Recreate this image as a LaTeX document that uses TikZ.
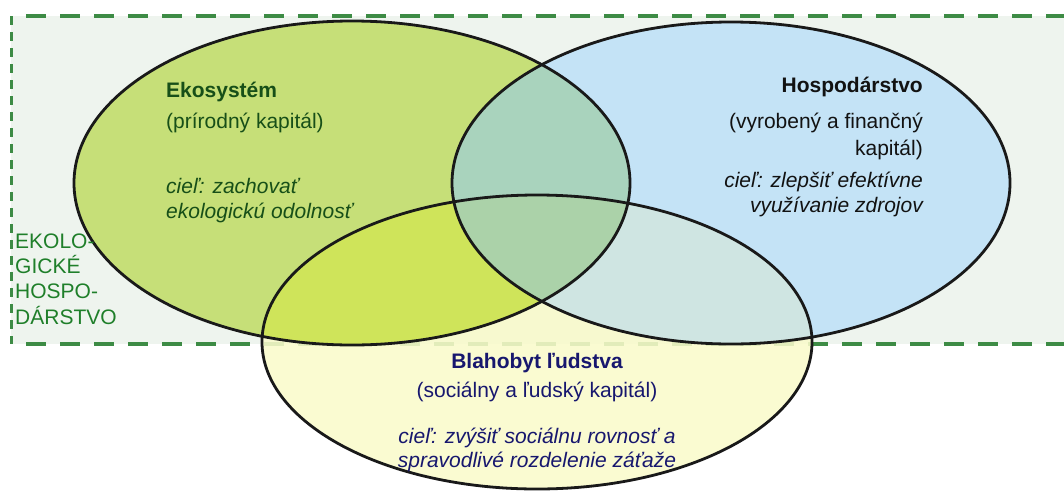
\documentclass[tikz,border=0pt]{standalone}
\usepackage{fontspec}
\setmainfont{Liberation Sans}
\definecolor{rectfill}{HTML}{EEF4EE}
\definecolor{dashgreen}{HTML}{3D8B45}
\definecolor{ecofill}{HTML}{C6DF78}
\definecolor{econfill}{HTML}{C4E3F6}
\definecolor{wellfill}{HTML}{F9FACB}
\definecolor{ecowell}{HTML}{CFE45A}
\definecolor{ecoecon}{HTML}{A9D3BD}
\definecolor{econwell}{HTML}{CFE5E2}
\definecolor{triple}{HTML}{ABD2A9}
\definecolor{ecotext}{HTML}{174F18}
\definecolor{labgreen}{HTML}{1F7F2A}
\definecolor{navy}{HTML}{17176E}
\tikzset{
  txt/.style={inner sep=0pt, font=\fontsize{21}{25}\selectfont},
  outline/.style={draw=black!90, line width=2.8pt},
}
\begin{document}
\begin{tikzpicture}[x=1pt,y=-1pt]
\useasboundingbox (0,0) rectangle (1064,498);
\clip (0,0) rectangle (1064,498);
% ecological economy box
\fill[rectfill] (11,16) rectangle (1080,344);
\draw[dashgreen, line width=3.5pt, dash pattern=on 20pt off 14pt] (26,16) -- (1080,16);
\draw[dashgreen, line width=3.5pt, dash pattern=on 20pt off 14pt] (26,344) -- (1080,344);
\draw[dashgreen, line width=3pt, dash pattern=on 9pt off 7pt] (11,16) -- (11,344);
% ellipse fills
\def\eco{(352,183) ellipse [x radius=278, y radius=162]}
\def\econ{(731,183) ellipse [x radius=279, y radius=161]}
\def\well{(537,342) ellipse [x radius=275, y radius=147]}
\fill[ecofill] \eco;
\fill[econfill] \econ;
\fill[wellfill, fill opacity=0.88] \well;
\begin{scope}\clip \eco; \fill[ecoecon] \econ; \end{scope}
\begin{scope}\clip \eco; \fill[ecowell] \well; \end{scope}
\begin{scope}\clip \econ; \fill[econwell] \well; \end{scope}
\begin{scope}\clip \eco; \clip \econ; \fill[triple] \well; \end{scope}
% outlines
\draw[outline] \eco;
\draw[outline] \econ;
\draw[outline] \well;
% Ecosystem text
\node[txt, anchor=base west, text=ecotext, font=\fontsize{21}{25}\selectfont\bfseries] (ekoT) at (166,97) {Ekosystém};
\node[txt, anchor=base west, text=ecotext] (ekoK) at (166,128) {(prírodný kapitál)};
\node[txt, anchor=base west, text=ecotext, font=\fontsize{21}{25}\selectfont\itshape] (ekoC1) at (166,193) {cieľ: zachovať};
\node[txt, anchor=base west, text=ecotext, font=\fontsize{21}{25}\selectfont\itshape] (ekoC2) at (166,218) {ekologickú odolnosť};
% Economy text
\node[txt, anchor=base east, text=black!93, font=\fontsize{21}{25}\selectfont\bfseries] (hosT) at (923,92) {Hospodárstvo};
\node[txt, anchor=base east, text=black!93] (hosK1) at (923,128) {(vyrobený a finančný};
\node[txt, anchor=base east, text=black!93] (hosK2) at (923,155) {kapitál)};
\node[txt, anchor=base east, text=black!93, font=\fontsize{21}{25}\selectfont\itshape] (hosC1) at (923,187) {cieľ: zlepšiť efektívne};
\node[txt, anchor=base east, text=black!93, font=\fontsize{21}{25}\selectfont\itshape] (hosC2) at (923,212) {využívanie zdrojov};
% Well-being text
\node[txt, anchor=base, text=navy, font=\fontsize{21}{25}\selectfont\bfseries] (blaT) at (537,368) {Blahobyt ľudstva};
\node[txt, anchor=base, text=navy] (blaK) at (537,397) {(sociálny a ľudský kapitál)};
\node[txt, anchor=base, text=navy, font=\fontsize{21}{25}\selectfont\itshape] (blaC1) at (537,443) {cieľ: zvýšiť sociálnu rovnosť a};
\node[txt, anchor=base, text=navy, font=\fontsize{21}{25}\selectfont\itshape] (blaC2) at (537,467) {spravodlivé rozdelenie záťaže};
% box label
\node[txt, anchor=base west, text=labgreen] (lab1) at (15,248) {EKOLO-};
\node[txt, anchor=base west, text=labgreen] (lab2) at (15,273) {GICKÉ};
\node[txt, anchor=base west, text=labgreen] (lab3) at (15,298) {HOSPO-};
\node[txt, anchor=base west, text=labgreen] (lab4) at (15,324) {DÁRSTVO};
\end{tikzpicture}
\end{document}
